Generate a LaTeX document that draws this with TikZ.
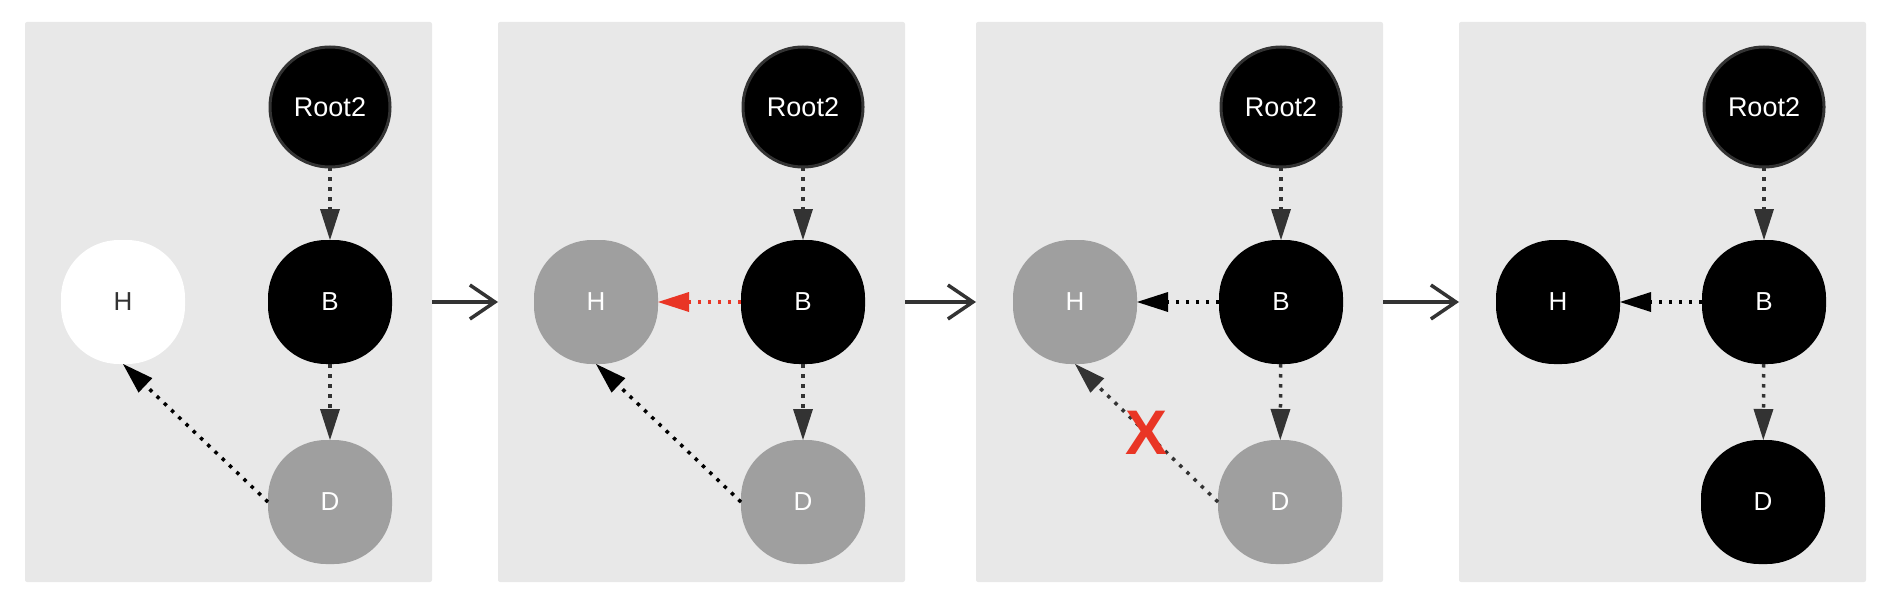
\documentclass[tikz,border=0pt]{standalone}
\usepackage{fontspec}
\setmainfont{Liberation Sans}
\usetikzlibrary{arrows.meta}
\definecolor{panelbg}{RGB}{232,232,232}
\definecolor{nodegray}{RGB}{159,159,159}
\definecolor{darkg}{RGB}{51,51,51}
\definecolor{hlred}{RGB}{233,53,37}
\tikzset{
  panel/.style={fill=panelbg, rounded corners=2pt, minimum width=407pt, minimum height=560pt,
    inner sep=0pt, outer sep=0pt, anchor=north west},
  blob/.style={minimum width=124pt, minimum height=124pt, rounded corners=58pt, inner sep=0pt,
    outer sep=0pt, font=\fontsize{26}{30}\selectfont, text=white},
  blackblob/.style={blob, fill=black},
  grayblob/.style={blob, fill=nodegray},
  whiteblob/.style={blob, fill=white, text=darkg},
  rootnode/.style={circle, fill=black, draw=darkg, line width=3pt, minimum size=120pt,
    inner sep=0pt, outer sep=0pt, text=white, font=\fontsize{27}{30}\selectfont},
  link/.style={line width=3.5pt, dash pattern=on 3.5pt off 6.5pt,
    -{Triangle[length=31pt,width=20pt,line width=0pt]}},
  graylink/.style={link, draw=darkg},
  blacklink/.style={link, draw=black},
  redlink/.style={link, draw=hlred},
  stepline/.style={line width=3.5pt, draw=darkg,
    -{Straight Barb[length=25pt,width=34pt,line width=3.5pt]}},
  cross/.style={text=hlred, font=\fontsize{63}{63}\selectfont\bfseries, inner sep=0pt}
}
\begin{document}
\begin{tikzpicture}[x=1pt,y=-1pt]
\useasboundingbox (0,0) rectangle (1894,602);
% panels
\node[panel] (p1) at (25,22) {};
\node[panel] (p2) at (498,22) {};
\node[panel] (p3) at (976,22) {};
\node[panel] (p4) at (1459,22) {};
\draw[stepline] (p1.east) -- (p2.west);
\draw[stepline] (p2.east) -- (p3.west);
\draw[stepline] (p3.east) -- (p4.west);
% panel 1
\node[rootnode] (r1) at (330,107) {Root2};
\node[blackblob] (b1) at (330,302) {B};
\node[whiteblob] (h1) at (123,302) {H};
\node[grayblob] (d1) at (330,502) {D};
\draw[graylink] (r1) -- (b1);
\draw[graylink] (b1) -- (d1);
\draw[blacklink] (d1.west) -- (h1.south);
% panel 2
\node[rootnode] (r2) at (803,107) {Root2};
\node[blackblob] (b2) at (803,302) {B};
\node[grayblob] (h2) at (596,302) {H};
\node[grayblob] (d2) at (803,502) {D};
\draw[graylink] (r2) -- (b2);
\draw[graylink] (b2) -- (d2);
\draw[redlink] (b2) -- (h2);
\draw[blacklink] (d2.west) -- (h2.south);
% panel 3
\node[rootnode] (r3) at (1281,107) {Root2};
\node[blackblob] (b3) at (1281,302) {B};
\node[grayblob] (h3) at (1075,302) {H};
\node[grayblob] (d3) at (1280,502) {D};
\draw[graylink] (r3) -- (b3);
\draw[graylink] (b3) -- (d3);
\draw[blacklink] (b3) -- (h3);
\draw[graylink] (d3.west) -- node[cross, pos=0.5] (x3) {X} (h3.south);
% panel 4
\node[rootnode] (r4) at (1764,107) {Root2};
\node[blackblob] (b4) at (1764,302) {B};
\node[blackblob] (h4) at (1558,302) {H};
\node[blackblob] (d4) at (1763,502) {D};
\draw[graylink] (r4) -- (b4);
\draw[graylink] (b4) -- (d4);
\draw[blacklink] (b4) -- (h4);
\end{tikzpicture}
\end{document}
